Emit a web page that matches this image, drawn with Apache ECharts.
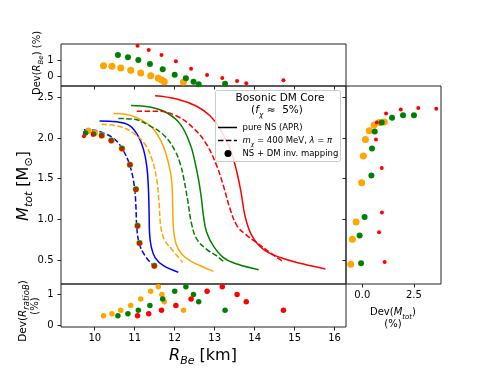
<!DOCTYPE html>
<html>
<head>
<meta charset="utf-8">
<script src="https://cdn.jsdelivr.net/npm/echarts@6/dist/echarts.min.js"></script>
<style>
  html, body { margin: 0; padding: 0; background: #fff; }
  #chart { width: 490px; height: 368px; }
</style>
</head>
<body>
<div id="chart"></div>
<script>
// mass-radius curves [R_Be (km), M_tot (Msun)]
var blueSolid = [[10.12,2.21],[10.55,2.20],[10.88,2.15],[11.09,2.02],[11.22,1.86],[11.30,1.66],[11.34,1.41],[11.36,1.08],[11.37,0.84],[11.41,0.67],[11.51,0.53],[11.72,0.43],[12.09,0.35]];
var blueDashed = [[9.73,2.10],[9.88,2.10],[10.22,2.06],[10.51,1.98],[10.72,1.84],[10.88,1.66],[10.99,1.41],[11.03,1.16],[11.05,0.92],[11.11,0.71],[11.26,0.55],[11.47,0.43]];
var orangeSolid = [[10.47,2.30],[10.80,2.29],[11.13,2.23],[11.43,2.13],[11.68,1.94],[11.84,1.70],[11.93,1.45],[11.95,1.16],[11.97,0.88],[12.04,0.69],[12.18,0.57],[12.39,0.49],[12.64,0.43],[12.97,0.36]];
var orangeDashed = [[10.17,2.17],[10.63,2.14],[10.97,2.06],[11.26,1.92],[11.43,1.74],[11.55,1.49],[11.61,1.20],[11.65,0.92],[11.74,0.75],[11.93,0.63],[12.20,0.47]];
var greenSolid = [[10.91,2.40],[11.38,2.38],[11.80,2.31],[12.14,2.17],[12.39,1.92],[12.50,1.72],[12.60,1.48],[12.67,1.25],[12.72,1.04],[12.80,0.84],[12.97,0.67],[13.22,0.53],[13.56,0.45],[14.10,0.38]];
var greenDashed = [[10.59,2.24],[10.97,2.23],[11.38,2.15],[11.76,2.02],[12.01,1.84],[12.14,1.68],[12.22,1.52],[12.33,1.22],[12.42,0.95],[12.55,0.76],[12.80,0.63],[13.05,0.55],[13.25,0.47]];
var redSolid = [[11.51,2.52],[12.05,2.48],[12.55,2.39],[12.89,2.27],[13.14,2.11],[13.39,1.86],[13.56,1.57],[13.66,1.33],[13.76,1.04],[13.93,0.80],[14.22,0.63],[14.64,0.53],[15.22,0.45],[15.77,0.39]];
var redDashed = [[11.05,2.33],[11.55,2.33],[12.05,2.27],[12.47,2.12],[12.80,1.92],[13.05,1.66],[13.22,1.41],[13.39,1.12],[13.56,0.92],[13.76,0.82],[14.06,0.71],[14.39,0.59],[14.68,0.49]];

// inverse mapping points in the main panel
var mapOrange = [[9.84,2.09],[10.00,2.06],[10.18,2.03],[10.42,1.97],[10.68,1.87],[10.88,1.67],[11.03,1.37],[11.07,0.92],[11.12,0.71],[11.49,0.43]];
var mapGreen = [[9.77,2.06],[9.97,2.05],[10.17,2.03],[10.41,1.97],[10.68,1.87],[10.88,1.67],[11.03,1.37],[11.07,0.92],[11.12,0.71],[11.49,0.43]];
var mapRed = [[9.73,2.02],[9.95,2.04],[10.17,2.02],[10.41,1.96],[10.68,1.86],[10.88,1.67],[11.03,1.36],[11.07,0.91],[11.12,0.70],[11.49,0.42]];

// radii of the deviation points
var orangeR = [10.22,10.43,10.65,10.90,11.15,11.40,11.59,11.68,11.74,12.22];
var greenR = [10.58,10.83,11.09,11.38,11.70,12.00,12.28,12.47,12.60,13.26];
var redR = [11.07,11.35,11.67,12.03,12.41,12.81,13.19,13.56,13.79,14.72];

// Dev(R_Be) %
var devRBeOrange = [0.66,0.62,0.52,0.38,0.22,0.06,-0.10,-0.20,-0.30,-0.32];
var devRBeGreen = [1.30,1.16,1.00,0.76,0.44,0.12,-0.10,-0.30,-0.46,-0.42];
var devRBeRed = [1.86,1.60,1.30,0.92,0.48,0.10,-0.08,-0.26,-0.40,-0.22];

// Dev(R_ratioB) %
var devRatio = [0.31,0.38,0.49,0.65,0.86,1.11,1.26,1.01,0.77,0.49];

// Dev(M_tot) % against M_tot
var orangeM = [0.447,0.754,0.967,1.45,1.78,1.98,2.09,2.16,2.19,2.195];
var devMOrange = [-0.56,-0.48,-0.30,-0.03,0.05,0.15,0.34,0.57,0.82,1.06];
var greenM = [0.46,0.80,1.03,1.54,1.87,2.08,2.19,2.25,2.28,2.28];
var devMGreen = [-0.06,-0.13,0.11,0.44,0.47,0.60,0.94,1.44,1.97,2.50];
var redM = [0.475,0.84,1.085,1.63,1.98,2.19,2.30,2.35,2.37,2.36];
var devMRed = [1.08,0.81,0.95,0.94,0.66,0.70,1.15,1.86,2.71,3.58];

// tick labels
var rTicks = [10,11,12,13,14,15,16];
var mTicks = [0.5,1.0,1.5,2.0,2.5];
var devTicks = [0,1];
var devMTicks = [0,2.5];

var BLUE = '#0000ff', ORANGE = '#ffa500', GREEN = '#008000', RED = '#ff0000';
var FONT = 'DejaVu Sans';

function zip(a, b) {
    return a.map(function (v, i) { return [v, b[i]]; });
}

var myChart = echarts.init(document.getElementById('chart'));

function axis(gridIndex, min, max, ticks, opts) {
    opts = opts || {};
    return {
        type: 'value',
        gridIndex: gridIndex,
        min: min,
        max: max,
        position: opts.position,
        axisLine: { show: false, onZero: false },
        splitLine: { show: false },
        axisTick: {
            show: opts.ticks !== false,
            length: 3.5,
            customValues: ticks,
            lineStyle: { color: '#222', width: 1 }
        },
        axisLabel: {
            show: !!opts.labels,
            customValues: ticks,
            margin: opts.margin || 7,
            fontFamily: FONT,
            fontSize: 10,
            color: '#000',
            formatter: opts.formatter
        }
    };
}

function line(data, color, dashed) {
    return {
        type: 'line', xAxisIndex: 1, yAxisIndex: 1,
        data: data, showSymbol: false, symbol: 'none', smooth: 0.4,
        lineStyle: { color: color, width: 1.5, type: dashed ? [5.5, 2.4] : 'solid' },
        z: 2
    };
}

function dots(data, color, size, gi, z) {
    return {
        type: 'scatter', xAxisIndex: gi, yAxisIndex: gi,
        data: data, symbolSize: size,
        itemStyle: { color: color, opacity: 1 },
        z: z || 3
    };
}

var gridStyle = { show: true, borderColor: '#222', borderWidth: 1, backgroundColor: 'transparent' };

var sub = function (size) {
    return { fontFamily: FONT, fontSize: size, fontStyle: 'italic', lineHeight: 8, verticalAlign: 'bottom' };
};
var norm = function (size, italic) {
    return { fontFamily: FONT, fontSize: size, fontStyle: italic ? 'italic' : 'normal', lineHeight: size + 6, verticalAlign: 'middle' };
};

var option = {
    animation: false,
    backgroundColor: '#fff',
    grid: [
        Object.assign({ left: 61, top: 44, width: 285, height: 42 }, gridStyle),
        Object.assign({ left: 61, top: 86, width: 285, height: 198 }, gridStyle),
        Object.assign({ left: 61, top: 284, width: 285, height: 43 }, gridStyle),
        Object.assign({ left: 346, top: 86, width: 95, height: 198 }, gridStyle)
    ],
    xAxis: [
        axis(0, 9.156, 16.285, rTicks, { position: 'bottom' }),
        axis(1, 9.156, 16.285, rTicks, { position: 'bottom', ticks: false }),
        axis(2, 9.156, 16.285, rTicks, { position: 'bottom', labels: true, margin: 6 }),
        axis(3, -0.79, 3.81, devMTicks, { position: 'bottom', labels: true, margin: 6,
            formatter: function (v) { return v.toFixed(1); } })
    ],
    yAxis: [
        axis(0, -0.56, 1.96, devTicks, { position: 'left', labels: true, margin: 7.5 }),
        axis(1, 0.205, 2.639, mTicks, { position: 'left', labels: true, margin: 7.5,
            formatter: function (v) { return v.toFixed(1); } }),
        axis(2, -0.055, 1.35, devTicks, { position: 'left', labels: true, margin: 7.5 }),
        axis(3, 0.205, 2.639, mTicks, { position: 'left' })
    ],
    series: [
        line(blueSolid, BLUE, false),
        line(blueDashed, BLUE, true),
        line(orangeSolid, ORANGE, false),
        line(orangeDashed, ORANGE, true),
        line(greenSolid, GREEN, false),
        line(greenDashed, GREEN, true),
        line(redSolid, RED, false),
        line(redDashed, RED, true),
        dots(mapOrange, ORANGE, 6.5, 1, 4),
        dots(mapGreen, GREEN, 5.5, 1, 5),
        dots(mapRed, RED, 4, 1, 6),
        dots(zip(orangeR, devRBeOrange), ORANGE, 7, 0),
        dots(zip(greenR, devRBeGreen), GREEN, 6, 0),
        dots(zip(redR, devRBeRed), RED, 4, 0),
        dots(zip(orangeR, devRatio), ORANGE, 5.5, 2),
        dots(zip(greenR, devRatio), GREEN, 5.5, 2),
        dots(zip(redR, devRatio), RED, 5.5, 2),
        dots(zip(devMOrange, orangeM), ORANGE, 7, 3),
        dots(zip(devMGreen, greenM), GREEN, 6, 3),
        dots(zip(devMRed, redM), RED, 4, 3)
    ],
    graphic: [
        {   // main y title
            type: 'text', x: 24, y: 186, rotation: Math.PI / 2,
            style: {
                text: '{i|M}{s|tot}{n| [M}{o|⊙}{n|]}',
                align: 'center', verticalAlign: 'middle', fill: '#000',
                rich: { i: norm(16, true), n: norm(16), s: sub(11), o: { fontFamily: FONT, fontSize: 11, lineHeight: 8, verticalAlign: 'bottom' } }
            }
        },
        {   // x title
            type: 'text', x: 203, y: 356,
            style: {
                text: '{i|R}{s|Be}{n| [km]}',
                align: 'center', verticalAlign: 'middle', fill: '#000',
                rich: { i: norm(16, true), n: norm(16), s: sub(11) }
            }
        },
        {   // top panel y title
            type: 'text', x: 37, y: 63, rotation: Math.PI / 2,
            style: {
                text: '{n|Dev(}{i|R}{s|Be}{n|) (%)}',
                align: 'center', verticalAlign: 'middle', fill: '#000',
                rich: { i: norm(10, true), n: norm(10), s: { fontFamily: FONT, fontSize: 7, fontStyle: 'italic', lineHeight: 6, verticalAlign: 'bottom' } }
            }
        },
        {   // bottom panel y title
            type: 'text', x: 23, y: 311, rotation: Math.PI / 2,
            style: {
                text: '{n|Dev(}{i|R}{s|ratioB}{n|)}',
                align: 'center', verticalAlign: 'middle', fill: '#000',
                rich: { i: norm(10.5, true), n: norm(10.5), s: { fontFamily: FONT, fontSize: 8.5, fontStyle: 'italic', lineHeight: 6, verticalAlign: 'bottom' } }
            }
        },
        {
            type: 'text', x: 35, y: 306, rotation: Math.PI / 2,
            style: { text: '(%)', fontFamily: FONT, fontSize: 10, fill: '#000', align: 'center', verticalAlign: 'middle' }
        },
        {   // right panel x title
            type: 'text', x: 393, y: 312.5,
            style: {
                text: '{n|Dev(}{i|M}{s|tot}{n|)}',
                align: 'center', verticalAlign: 'middle', fill: '#000',
                rich: { i: norm(10, true), n: norm(10), s: { fontFamily: FONT, fontSize: 7, fontStyle: 'italic', lineHeight: 6, verticalAlign: 'bottom' } }
            }
        },
        {
            type: 'text', x: 393, y: 324,
            style: { text: '(%)', fontFamily: FONT, fontSize: 10, fill: '#000', align: 'center', verticalAlign: 'middle' }
        },
        // legend box
        {
            type: 'rect', z: 50,
            shape: { x: 215.5, y: 90.5, width: 125, height: 71, r: 2 },
            style: { fill: 'rgba(255,255,255,0.85)', stroke: '#cccccc', lineWidth: 1 }
        },
        {
            type: 'text', z: 51, x: 280, y: 98.5,
            style: { text: 'Bosonic DM Core', fontFamily: FONT, fontSize: 10.5, fill: '#000', align: 'center', verticalAlign: 'middle' }
        },
        {
            type: 'text', z: 51, x: 277, y: 110.5,
            style: {
                text: '{n|(}{i|f}{s|χ}{n| ≈  5%)}',
                align: 'center', verticalAlign: 'middle', fill: '#000',
                rich: { i: norm(10.5, true), n: norm(10.5), s: { fontFamily: FONT, fontSize: 7.5, fontStyle: 'italic', lineHeight: 6, verticalAlign: 'bottom' } }
            }
        },
        {
            type: 'line', z: 51,
            shape: { x1: 218, y1: 127.5, x2: 237, y2: 127.5 },
            style: { stroke: '#000', lineWidth: 1.5 }
        },
        {
            type: 'line', z: 51,
            shape: { x1: 218, y1: 140.5, x2: 237, y2: 140.5 },
            style: { stroke: '#000', lineWidth: 1.5, lineDash: [5.5, 2.4] }
        },
        {
            type: 'circle', z: 51,
            shape: { cx: 228, cy: 153.5, r: 3.5 },
            style: { fill: '#000' }
        },
        {
            type: 'text', z: 51, x: 242.5, y: 127.5,
            style: { text: 'pure NS (APR)', fontFamily: FONT, fontSize: 8.5, fill: '#000', align: 'left', verticalAlign: 'middle' }
        },
        {
            type: 'text', z: 51, x: 242.5, y: 140.5,
            style: {
                text: '{i|m}{s|χ}{n| = 400 MeV, }{i|λ}{n| = }{i|π}',
                align: 'left', verticalAlign: 'middle', fill: '#000',
                rich: { i: norm(8.5, true), n: norm(8.5), s: { fontFamily: FONT, fontSize: 6, fontStyle: 'italic', lineHeight: 6, verticalAlign: 'bottom' } }
            }
        },
        {
            type: 'text', z: 51, x: 242.5, y: 153.5,
            style: { text: 'NS + DM inv. mapping', fontFamily: FONT, fontSize: 8.5, fill: '#000', align: 'left', verticalAlign: 'middle' }
        }
    ]
};

myChart.setOption(option);
</script>
</body>
</html>
